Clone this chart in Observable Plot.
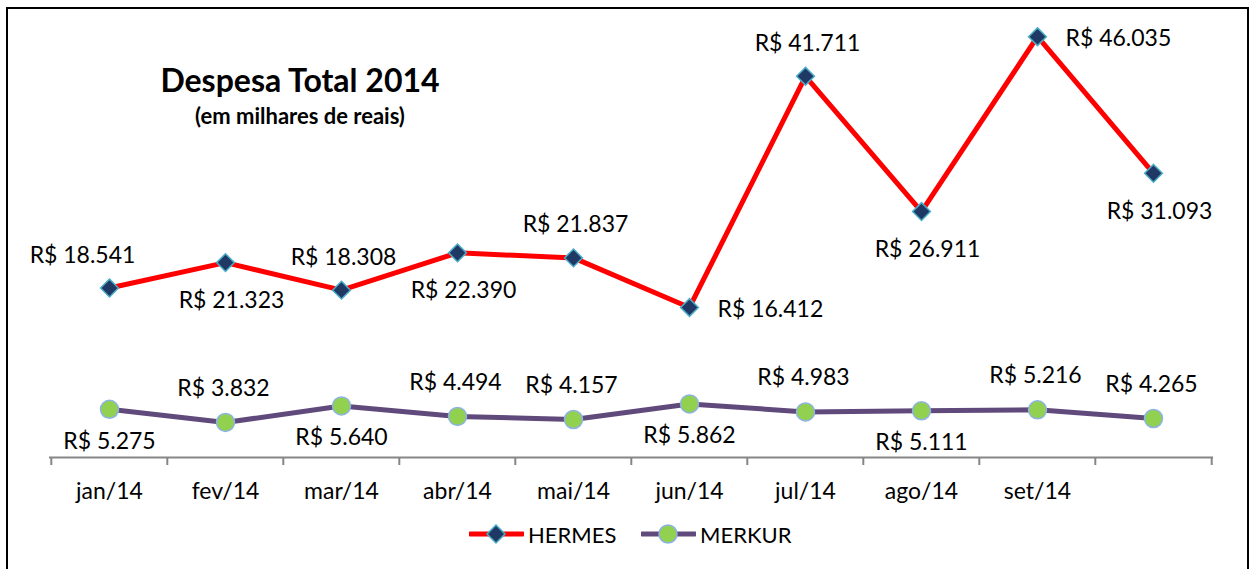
<!DOCTYPE html>
<html><head><meta charset="utf-8">
<script src="https://cdn.jsdelivr.net/npm/d3@7"></script>
<script src="https://cdn.jsdelivr.net/npm/@observablehq/plot@0.6"></script>
<style>
body{margin:0;background:#fff;font-family:Lato,"Open Sans",sans-serif;}
#wrap{position:relative;width:1250px;height:569px;overflow:hidden;background:#fff;}
#frame{position:absolute;left:6px;top:7px;width:1243px;height:600px;border:2px solid #000;box-sizing:border-box;}
#chart{position:absolute;left:0;top:0;}
#title{position:absolute;left:100px;width:400px;top:62px;text-align:center;font-weight:bold;font-size:32px;color:#000;line-height:36px;}
#subtitle{position:absolute;left:100px;width:400px;top:103px;text-align:center;font-weight:bold;font-size:22px;color:#000;line-height:26px;}
.leg{position:absolute;top:522px;height:24px;display:flex;align-items:center;font-size:22px;color:#000;}
.leg svg{margin-right:4px;}
</style></head>
<body>
<div id="wrap">
  <div id="frame"></div>
  <div id="chart"></div>
  <div id="title">Despesa Total 2014</div>
  <div id="subtitle">(em milhares de reais)</div>
  <div class="leg" id="legH" style="left:469px"></div>
  <div class="leg" id="legM" style="left:641px"></div>
</div>
<script>
const months = ["jan/14","fev/14","mar/14","abr/14","mai/14","jun/14","jul/14","ago/14","set/14","out/14"];
const tickLabels = ["jan/14","fev/14","mar/14","abr/14","mai/14","jun/14","jul/14","ago/14","set/14",""];
const seriesNames = ["HERMES","MERKUR"];
const hermes = [18541,21323,18308,22390,21837,16412,41711,26911,46035,31093];
const merkur = [5275,3832,5640,4494,4157,5862,4983,5111,5216,4265];
const hermesLabelPos = ["topleft","bottom","top","bottom","top","right","top","bottom","right","bottom"];
const merkurLabelPos = ["bottom","top","bottom","top","top","bottom","top","bottom","top","top"];

const fmt = v => "R$ " + d3.format(",")(v).replace(/,/g, ".");
const hRows = months.map((m,i)=>({month:m, value:hermes[i], pos:hermesLabelPos[i]}));
const mRows = months.map((m,i)=>({month:m, value:merkur[i], pos:merkurLabelPos[i]}));

const W=1250, H=569, mL=49, mR=37, mT=0, mB=112;
const step = (W-mL-mR)/months.length;
const placeH = {
  top:{dx:2, dy:-33, textAnchor:"middle"},
  topleft:{dx:-27, dy:-32, textAnchor:"middle"},
  bottom:{dx:6, dy:38, textAnchor:"middle"},
  right:{dx:28, dy:2, textAnchor:"start"}
};
const placeM = {
  top:{dx:-2, dy:-34, textAnchor:"middle"},
  bottom:{dx:0, dy:32, textAnchor:"middle"}
};
const labelMarks = [];
for (const [rows, place] of [[hRows, placeH], [mRows, placeM]]) {
  for (const [p, o] of Object.entries(place)) {
    const sub = rows.filter(d=>d.pos===p);
    if (sub.length) labelMarks.push(Plot.text(sub, {x:"month", y:"value", text:d=>fmt(d.value), fill:"#000", fontSize:23, ...o}));
  }
}
const hermesStyle = {line:"#ff0000", fill:"#1f3864", stroke:"#4bacc6"};
const merkurStyle = {line:"#604a7b", fill:"#92d050", stroke:"#8db3e2"};

const chart = Plot.plot({
  width:W, height:H, marginLeft:mL, marginRight:mR, marginTop:mT, marginBottom:mB,
  style:{fontFamily:"Lato, 'Open Sans', sans-serif", background:"transparent", overflow:"visible"},
  x:{type:"point", domain:months, padding:0.5, axis:null},
  y:{domain:[0,50000], axis:null},
  marks:[
    Plot.ruleY([0], {stroke:"#868686", strokeWidth:2}),
    Plot.axisX(months, {tickSize:8, tickFormat:()=>"", label:null, dx:-step/2, stroke:"#868686", strokeWidth:2}),
    Plot.axisX([months[months.length-1]], {tickSize:8, tickFormat:()=>"", label:null, dx:step/2, stroke:"#868686", strokeWidth:2}),
    Plot.axisX(months, {tickSize:0, tickPadding:25, label:null, tickFormat:d=>tickLabels[months.indexOf(d)], fontSize:23, fill:"#000"}),
    Plot.line(hRows, {x:"month", y:"value", stroke:hermesStyle.line, strokeWidth:5}),
    Plot.line(mRows, {x:"month", y:"value", stroke:merkurStyle.line, strokeWidth:5}),
    Plot.dot(hRows, {x:"month", y:"value", symbol:"diamond2", r:8, fill:hermesStyle.fill, stroke:hermesStyle.stroke, strokeWidth:1.5}),
    Plot.dot(mRows, {x:"month", y:"value", r:9, fill:merkurStyle.fill, stroke:merkurStyle.stroke, strokeWidth:1.5}),
    ...labelMarks
  ]
});
document.getElementById("chart").appendChild(chart);

function legend(id, name, st, diamond){
  const marker = diamond
    ? `<path d="M27,3 L36,12 L27,21 L18,12 Z" fill="${st.fill}" stroke="${st.stroke}" stroke-width="1.5"/>`
    : `<circle cx="27" cy="12" r="9" fill="${st.fill}" stroke="${st.stroke}" stroke-width="1.5"/>`;
  document.getElementById(id).innerHTML =
    `<svg width="55" height="24"><line x1="1" y1="12" x2="54" y2="12" stroke="${st.line}" stroke-width="5" stroke-linecap="round"/>${marker}</svg><span>${name}</span>`;
}
legend("legH", seriesNames[0], hermesStyle, true);
legend("legM", seriesNames[1], merkurStyle, false);
</script>
</body></html>
